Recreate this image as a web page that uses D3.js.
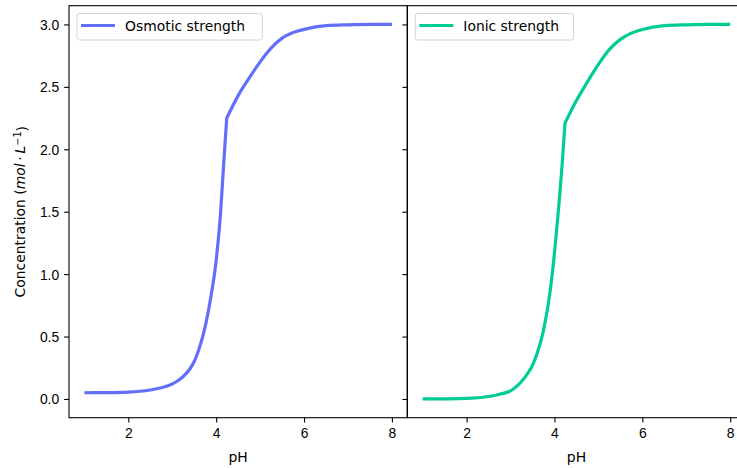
<!DOCTYPE html>
<html>
<head>
<meta charset="utf-8">
<script src="https://cdn.jsdelivr.net/npm/d3@7"></script>
<style>
  body { margin: 0; background: #fff; }
  svg { display: block; font-family: "DejaVu Sans", sans-serif; }
</style>
</head>
<body>
<script>
// data
const pH = [1, 1.5, 2, 2.5, 2.75, 3, 3.1, 3.25, 3.4, 3.5, 3.6, 3.75, 3.9, 4.0, 4.1, 4.17, 4.24, 4.5, 4.75, 5.0, 5.25, 5.5, 5.75, 6.0, 6.5, 7, 7.5, 8];
const osmotic = [0.05, 0.051, 0.055, 0.072, 0.09, 0.12, 0.14, 0.18, 0.24, 0.30, 0.39, 0.58, 0.86, 1.11, 1.49, 1.88, 2.25, 2.43, 2.57, 2.70, 2.81, 2.89, 2.935, 2.96, 2.99, 2.997, 3.0, 3.0];
const ionic = [0.0, 0.001, 0.004, 0.02, 0.038, 0.065, 0.09, 0.14, 0.21, 0.27, 0.36, 0.55, 0.86, 1.17, 1.55, 1.86, 2.21, 2.39, 2.54, 2.68, 2.80, 2.88, 2.93, 2.96, 2.99, 2.997, 3.0, 3.0];
const kinkPH = 4.24;
const xTicks = [2, 4, 6, 8];
const yTicks = [0.0, 0.5, 1.0, 1.5, 2.0, 2.5, 3.0];
const panels = [
  {name: "Osmotic strength", values: osmotic, color: "#636efa"},
  {name: "Ionic strength", values: ionic, color: "#00cc96"}
];

const w = 737, h = 468;
const pTop = 5.7, pBottom = 417.7, pLeft = 69, pw = 338.3;
const fs = 13.9;

const svg = d3.select("body").append("svg").attr("width", w).attr("height", h);

const y = d3.scaleLinear().domain([-0.15, 3.15]).range([pBottom, pTop]);

panels.forEach((p, i) => {
  const x0 = pLeft + i * pw;
  const x = d3.scaleLinear().domain([0.65, 8.35]).range([x0, x0 + pw]);
  const g = svg.append("g");

  //line, smooth on each side of the kink
  const pts = pH.map((v, k) => [v, p.values[k]]);
  const line = d3.line().x(d => x(d[0])).y(d => y(d[1])).curve(d3.curveMonotoneX);
  const d1 = line(pts.filter(d => d[0] <= kinkPH));
  const d2 = line(pts.filter(d => d[0] >= kinkPH)).replace(/^M/, "L");
  g.append("path")
    .attr("fill", "none").attr("stroke", p.color).attr("stroke-width", 3.2)
    .attr("stroke-linejoin", "miter")
    .attr("d", d1 + d2);

  //x-axis
  const ax = g.append("g").attr("transform", `translate(0, ${pBottom})`)
    .call(d3.axisBottom(x).tickValues(xTicks).tickFormat(d3.format("d")).tickSize(4.9).tickPadding(4.9).tickSizeOuter(0));
  ax.select(".domain").remove();
  ax.selectAll("text").style("font-size", fs + "px").attr("fill", "#000").attr("dy", "0.76em");
  ax.selectAll("line").attr("stroke", "#000").attr("stroke-width", 1.1);

  //y-axis
  const ay = g.append("g").attr("transform", `translate(${x0}, 0)`)
    .call(d3.axisLeft(y).tickValues(yTicks).tickFormat(i === 0 ? d3.format(".1f") : () => "").tickSize(4.9).tickPadding(4.9).tickSizeOuter(0));
  ay.select(".domain").remove();
  ay.selectAll("text").style("font-size", fs + "px").attr("fill", "#000").attr("dy", "0.36em");
  ay.selectAll("line").attr("stroke", "#000").attr("stroke-width", 1.1);

  //frame
  g.append("rect").attr("x", x0).attr("y", pTop).attr("width", pw).attr("height", pBottom - pTop)
    .attr("fill", "none").attr("stroke", "#000").attr("stroke-width", 1.1);

  //x label
  g.append("text").attr("x", x0 + pw / 2).attr("y", 462).attr("text-anchor", "middle")
    .style("font-size", fs + "px").text("pH");

  //legend
  const lx = x0 + 8, lw = i === 0 ? 185.3 : 158.3;
  g.append("rect").attr("x", lx).attr("y", 13.5).attr("width", lw).attr("height", 26.5)
    .attr("rx", 2.5).attr("fill", "#fff").attr("fill-opacity", 0.8).attr("stroke", "#d4d4d4").attr("stroke-width", 1);
  g.append("line").attr("x1", lx + 4).attr("x2", lx + 38).attr("y1", 25.5).attr("y2", 25.5)
    .attr("stroke", p.color).attr("stroke-width", 3.2);
  g.append("text").attr("x", lx + 48).attr("y", 30.5).style("font-size", fs + "px").text(p.name);
});

//y label
const yl = svg.append("text").attr("transform", `translate(25, ${(pTop + pBottom) / 2}) rotate(-90)`)
  .attr("text-anchor", "middle").style("font-size", fs + "px");
yl.append("tspan").text("Concentration (");
yl.append("tspan").style("font-style", "italic").text("mol");
yl.append("tspan").text("\u2009\u00b7\u2009");
yl.append("tspan").style("font-style", "italic").text("L");
yl.append("tspan").attr("dy", "-0.45em").style("font-size", "9.7px").text("\u22121");
yl.append("tspan").attr("dy", "0.45em").text(")");
</script>
</body>
</html>
